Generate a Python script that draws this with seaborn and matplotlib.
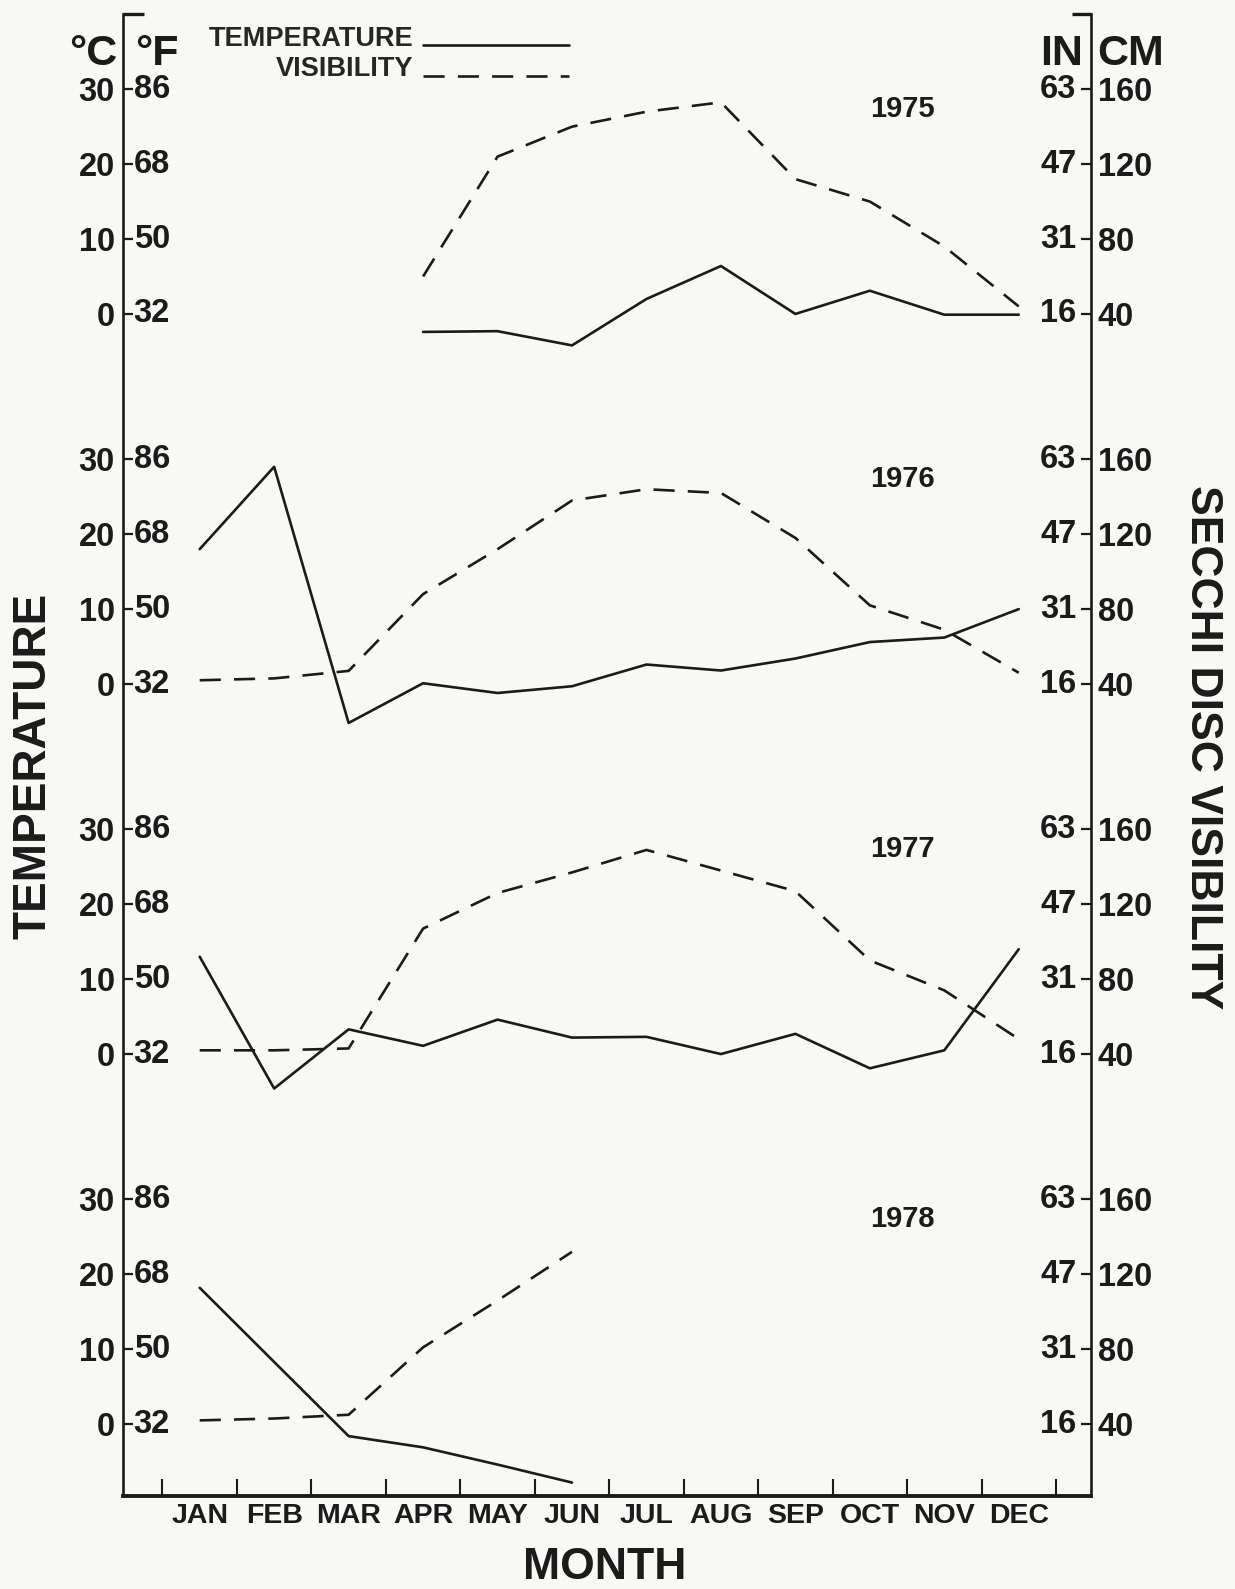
import matplotlib
matplotlib.use("Agg")
import matplotlib.pyplot as plt
import matplotlib.transforms as mtransforms
from matplotlib.lines import Line2D
from matplotlib.legend_handler import HandlerLine2D
import seaborn as sns
import pandas as pd
import numpy as np

nan = np.nan

months = ["JAN", "FEB", "MAR", "APR", "MAY", "JUN",
          "JUL", "AUG", "SEP", "OCT", "NOV", "DEC"]
years = ["1975", "1976", "1977", "1978"]

# temperature in deg C, Secchi disc visibility in cm
temp_1975 = [nan, nan, nan, -2.4, -2.3, -4.2, 2.0, 6.4, 0.0, 3.1, -0.1, -0.1]
vis_1975 = [nan, nan, nan, 60, 124, 140, 148, 153, 112, 100, 76, 44]
temp_1976 = [18.0, 29.0, -5.2, 0.1, -1.2, -0.3, 2.6, 1.8, 3.4, 5.6, 6.2, 10.0]
vis_1976 = [42, 43, 47, 88, 112, 138, 144, 142, 118, 82, 69, 46]
temp_1977 = [13.0, -4.6, 3.3, 1.1, 4.6, 2.2, 2.3, 0.0, 2.7, -1.9, 0.5, 14.0]
vis_1977 = [42, 42, 43, 107, 126, 137, 149, 138, 127, 90, 74, 48]
temp_1978 = [18.2, 8.3, -1.6, -3.1, -5.4, -7.8, nan, nan, nan, nan, nan, nan]
vis_1978 = [42, 43, 45, 81, 106, 132, nan, nan, nan, nan, nan, nan]

celsius_ticks = [0, 10, 20, 30]
fahrenheit_labels = ["32", "50", "68", "86"]
cm_labels = ["40", "80", "120", "160"]
inch_labels = ["16", "31", "47", "63"]

temps = [temp_1975, temp_1976, temp_1977, temp_1978]
vises = [vis_1975, vis_1976, vis_1977, vis_1978]

PANEL_STEP = 49.4   # vertical distance between the stacked years (deg C units)
INK = "#1b1b1b"
PAPER = "#f8f8f4"

sns.set_theme(style="white")
plt.rcParams["font.family"] = ["Liberation Sans", "DejaVu Sans"]
plt.rcParams["font.weight"] = "bold"


def panel_offset(k):
    return (len(years) - 1 - k) * PANEL_STEP


class BaselineLine(HandlerLine2D):
    """Legend sample drawn near the text baseline, as on the original."""
    def create_artists(self, legend, orig_handle, xdescent, ydescent,
                       width, height, fontsize, trans):
        artists = super().create_artists(legend, orig_handle, xdescent,
                                         ydescent, width, height, fontsize,
                                         trans)
        for a in artists:
            a.set_ydata(np.asarray(a.get_ydata()) - 0.22 * fontsize)
        return artists


# long table: visibility mapped onto the temperature scale (40 cm = 0 C, 160 cm = 30 C)
rows = []
for k, yr in enumerate(years):
    for m, (t, v) in enumerate(zip(temps[k], vises[k]), start=1):
        rows.append({"year": yr, "month": m, "variable": "TEMPERATURE",
                     "y": t + panel_offset(k)})
        rows.append({"year": yr, "month": m, "variable": "VISIBILITY",
                     "y": (v - 40) / 4 + panel_offset(k)})
df = pd.DataFrame(rows).dropna()

fig = plt.figure(figsize=(12.35, 15.89), dpi=100, facecolor=PAPER)
ax = fig.add_axes([0.0996, 0.0585, 0.7838, 0.9325])
ax.set_facecolor(PAPER)

sns.lineplot(data=df, x="month", y="y", style="variable", units="year",
             estimator=None, sort=False, color=INK, linewidth=1.9,
             dashes={"TEMPERATURE": "", "VISIBILITY": (8, 5)},
             legend=False, ax=ax)

ax.set_xlim(-0.03, 12.97)
ax.set_ylim(-9.6, panel_offset(0) + 40)

# spines: left, right, bottom only
for side in ["left", "right"]:
    ax.spines[side].set_linewidth(1.9)
    ax.spines[side].set_color(INK)
ax.spines["bottom"].set_linewidth(2.8)
ax.spines["bottom"].set_color(INK)
ax.spines["top"].set_visible(False)
ax.plot([0, 0.022], [1, 1], transform=ax.transAxes, color=INK, lw=2.4,
        clip_on=False, solid_capstyle="butt")
ax.plot([0.98, 1.0], [1, 1], transform=ax.transAxes, color=INK, lw=2.4,
        clip_on=False, solid_capstyle="butt")

# x axis: tick marks between months, labels at month centres
ax.set_xticks(np.arange(0.5, 13, 1.0))
ax.set_xticklabels([])
ax.set_xticks(np.arange(1, 13), minor=True)
ax.set_xticklabels(months, minor=True)
ax.tick_params(axis="x", which="major", direction="in", length=12, width=1.5,
               color=INK, bottom=True)
ax.tick_params(axis="x", which="minor", length=0, pad=5, labelsize=20.5,
               labelcolor=INK)
ax.set_xlabel("")
ax.set_ylabel("")

# y axis: celsius outside left, fahrenheit inside
ytick_pos = [panel_offset(k) + c for k in range(len(years)) for c in celsius_ticks]
ax.set_yticks(ytick_pos)
ax.set_yticklabels([str(c) for k in range(len(years)) for c in celsius_ticks])
ax.tick_params(axis="y", direction="in", length=7, width=1.6, color=INK,
               left=True, pad=6, labelsize=23.5, labelcolor=INK)

ax2 = ax.twinx()
ax2.set_ylim(ax.get_ylim())
ax2.set_yticks(ytick_pos)
ax2.set_yticklabels(cm_labels * len(years))
ax2.tick_params(axis="y", direction="in", length=7, width=1.6, color=INK,
                right=True, pad=5, labelsize=23.5, labelcolor=INK)
for s in ax2.spines.values():
    s.set_visible(False)
ax2.grid(False)
ax.grid(False)

left_tr = mtransforms.blended_transform_factory(ax.transAxes, ax.transData)
for pos, f_lab, in_lab in zip(ytick_pos, fahrenheit_labels * len(years),
                              inch_labels * len(years)):
    ax.text(0.011, pos, f_lab, transform=left_tr, ha="left", va="center",
            fontsize=23.5, color=INK)
    ax.text(0.985, pos, in_lab, transform=left_tr, ha="right", va="center",
            fontsize=23.5, color=INK)

# unit headers
for x, lab, ha in [(-0.006, "°C", "right"), (0.013, "°F", "left"),
                   (0.9915, "IN", "right"), (1.006, "CM", "left")]:
    ax.text(x, 0.966, lab, transform=ax.transAxes, ha=ha, va="baseline",
            fontsize=31, color=INK)

# year labels
for k, yr in enumerate(years):
    ax.text(10.0, panel_offset(k) + 27.4, yr, ha="left", va="center",
            fontsize=21, color=INK)

# legend with text before the line sample
handles = [Line2D([], [], color=INK, lw=1.9),
           Line2D([], [], color=INK, lw=1.9, dashes=(8, 5))]
ax.legend(handles, ["TEMPERATURE", "VISIBILITY"], loc="upper right",
          bbox_to_anchor=(0.461, 0.992), frameon=False, markerfirst=False,
          handlelength=5.4, handleheight=0.0, handletextpad=0.35,
          labelspacing=0.15, borderpad=0, borderaxespad=0,
          handler_map={Line2D: BaselineLine()},
          prop={"size": 19.5, "weight": "bold"})

# axis titles
fig.text(0.027, 0.518, "TEMPERATURE", rotation=90, ha="center", va="center",
         fontsize=33, color=INK)
fig.text(0.974, 0.53, "SECCHI DISC VISIBILITY", rotation=270, ha="center",
         va="center", fontsize=32, color=INK)
fig.text(0.49, 0.0135, "MONTH", ha="center", va="center", fontsize=32,
         color=INK)

fig.savefig("out.png", dpi=100, facecolor=PAPER)
